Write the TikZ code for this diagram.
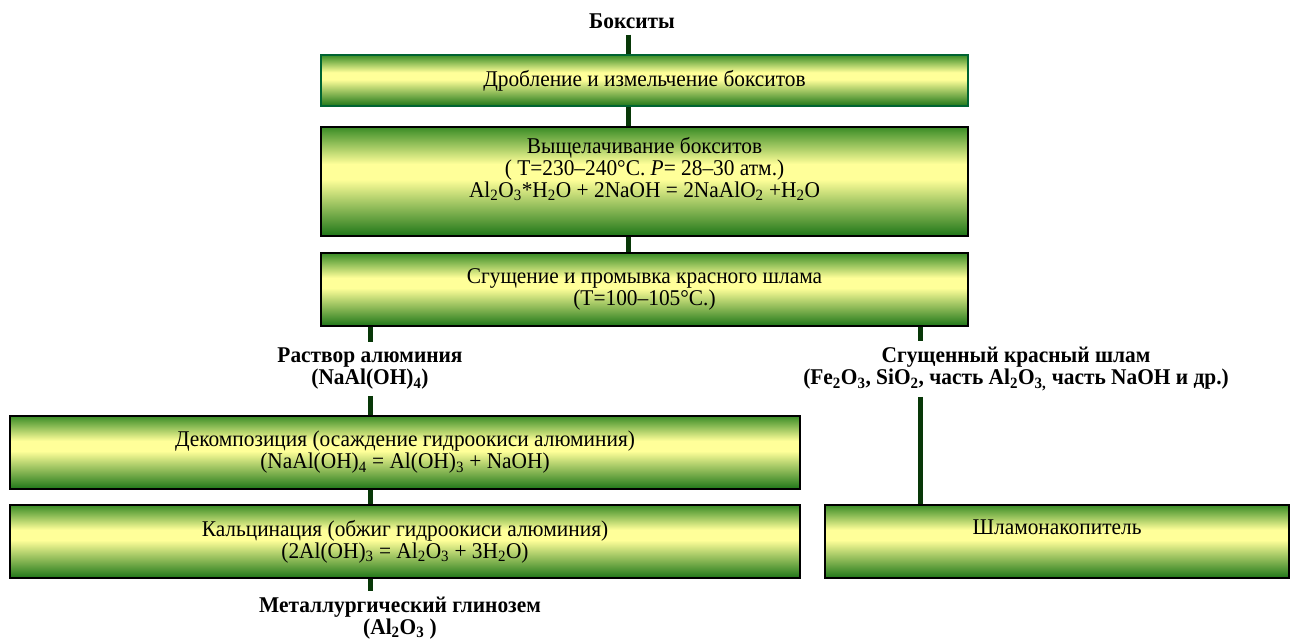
\documentclass[tikz,border=0pt]{standalone}
\usepackage{fontspec}
\setmainfont{Liberation Serif}[FakeStretch=0.95]
\usepackage{tikz}
\usetikzlibrary{positioning}
\usetikzlibrary{calc}
\definecolor{colorGreenTop}{RGB}{58,140,38}
\definecolor{colorGreenLow}{RGB}{30,118,24}
\definecolor{colorYellow}{RGB}{255,255,153}
\definecolor{colorLine}{RGB}{8,56,8}
\definecolor{colorFrame}{RGB}{0,100,50}
\pgfdeclareverticalshading{stepShade}{100bp}{color(0bp)=(colorGreenLow); color(25bp)=(colorGreenLow); color(51bp)=(colorYellow); color(58bp)=(colorYellow); color(75bp)=(colorGreenTop); color(100bp)=(colorGreenTop)}
\newcommand{\stepfont}{\fontsize{22.5}{22}\selectfont}
\newcommand{\labelfont}{\bfseries\fontsize{22.5}{22}\selectfont}
\tikzstyle{stepNode} = [rectangle, draw=black, line width=2pt, shading=stepShade, align=center, text centered, minimum width=647pt, minimum height=73pt, font=\stepfont]
\tikzstyle{flowLabel} = [align=center, inner sep=6pt, font=\labelfont]
\tikzstyle{flowLine} = [draw=colorLine, line width=5pt]

\begin{document}
\begin{tikzpicture}[x=1pt, y=-1pt]
	\useasboundingbox (0,0) rectangle (1291,641);
	
	\coordinate (Main-Axis) at (628,0);
	\coordinate (Left-Axis) at (370,0);
	\coordinate (Right-Axis) at (920,0);
	
	\node[flowLabel] at (632,21) (Bauxite){Бокситы};
	
	\node[stepNode, minimum height=51pt, draw=colorFrame] at (644.5,80.5) (Step-Crush){Дробление и измельчение бокситов};
	
	\node[stepNode, minimum height=109pt] at (644.5,181.5) (Step-Leach){Выщелачивание бокситов\\( T=230–240°C. \textit{P}= 28–30 атм.)\\Al\textsubscript{2}O\textsubscript{3}*H\textsubscript{2}O + 2NaOH = 2NaAlO\textsubscript{2} +H\textsubscript{2}O\\\strut};
	
	\node[stepNode] at (644.5,289.5) (Step-Thicken){Сгущение и промывка красного шлама\\(T=100–105°C.)};
	
	\node[flowLabel] at (370,369) (Solution){Раствор алюминия\\(NaAl(OH)\textsubscript{4})};
	
	\node[flowLabel] at (1016,369) (Red-Mud){Сгущенный красный шлам\\(Fe\textsubscript{2}O\textsubscript{3}, SiO\textsubscript{2}, часть Al\textsubscript{2}O\textsubscript{3,} часть NaOH и др.)};
	
	\node[stepNode, minimum width=790pt] at (405,452.5) (Step-Decomp){Декомпозиция (осаждение гидроокиси алюминия)\\(NaAl(OH)\textsubscript{4} = Al(OH)\textsubscript{3} + NaOH)};
	
	\node[stepNode, minimum width=790pt] at (405,541.5) (Step-Calcin){Кальцинация (обжиг гидроокиси алюминия)\\(2Al(OH)\textsubscript{3} = Al\textsubscript{2}O\textsubscript{3} + 3H\textsubscript{2}O)};
	
	\node[stepNode, minimum width=464pt] at (1057,541.5) (Step-Storage){Шламонакопитель\\\strut};
	
	\node[flowLabel] at (400,618) (Product){Металлургический глинозем\\(Al\textsubscript{2}O\textsubscript{3} )};
	
	% main line down to the thickener
	\draw[flowLine] (Bauxite.south -| Main-Axis) -- (Step-Crush.north -| Main-Axis);
	\draw[flowLine] (Step-Crush.south -| Main-Axis) -- (Step-Leach.north -| Main-Axis);
	\draw[flowLine] (Step-Leach.south -| Main-Axis) -- (Step-Thicken.north -| Main-Axis);
	
	% solution branch
	\draw[flowLine] (Step-Thicken.south -| Left-Axis) -- (Solution.north -| Left-Axis);
	\draw[flowLine] (Solution.south -| Left-Axis) -- (Step-Decomp.north -| Left-Axis);
	\draw[flowLine] (Step-Decomp.south -| Left-Axis) -- (Step-Calcin.north -| Left-Axis);
	\draw[flowLine] (Step-Calcin.south -| Left-Axis) -- (Product.north -| Left-Axis);
	
	% red mud branch
	\draw[flowLine] (Step-Thicken.south -| Right-Axis) -- (Red-Mud.north -| Right-Axis);
	\draw[flowLine] (Red-Mud.south -| Right-Axis) -- (Step-Storage.north -| Right-Axis);

\end{tikzpicture}
\end{document}
